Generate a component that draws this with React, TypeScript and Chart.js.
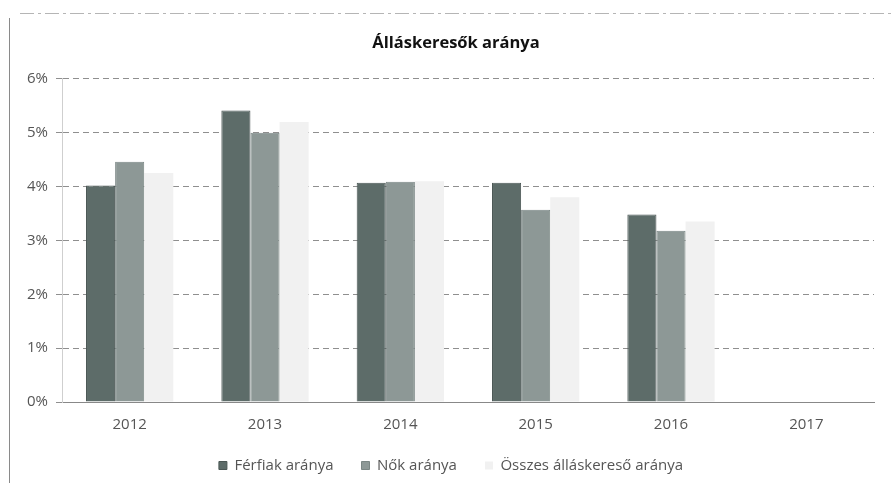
import React, { useEffect, useRef } from "react";
import { Chart, registerables } from "chart.js";

Chart.register(...registerables);

const categories = ["2012", "2013", "2014", "2015", "2016", "2017"];
const ferfiak = [4.02, 5.41, 4.07, 4.07, 3.48, null];
const nok = [4.46, 5.0, 4.09, 3.57, 3.18, null];
const osszes = [4.25, 5.2, 4.1, 3.8, 3.35, null];
const seriesNames = ["Férfiak aránya", "Nők aránya", "Összes álláskereső aránya"];
const yTicks = [0, 1, 2, 3, 4, 5, 6];

const frame = {
  id: "frame",
  afterLayout(chart: any) {
    if (chart.titleBlock) chart.titleBlock.left += 24;
    if (chart.legend) chart.legend.left += 14;
  },
  beforeDraw(chart: any) {
    const ctx = chart.ctx;
    ctx.save();
    ctx.strokeStyle = "#8a8a8a";
    ctx.lineWidth = 1;
    ctx.beginPath();
    ctx.moveTo(9.5, 18);
    ctx.lineTo(9.5, 483);
    ctx.stroke();
    ctx.strokeStyle = "#b5b5b5";
    ctx.setLineDash([14, 4, 3, 4]);
    ctx.beginPath();
    ctx.moveTo(20, 13.5);
    ctx.lineTo(891, 13.5);
    ctx.stroke();
    ctx.restore();
  },
};

export default function App() {
  const ref = useRef<HTMLCanvasElement>(null);
  useEffect(() => {
    document.body.style.margin = "0";
    const font = "'Open Sans', Lato, sans-serif";
    const chart = new Chart(ref.current!, {
      type: "bar",
      data: {
        labels: categories,
        datasets: [
          { label: seriesNames[0], data: ferfiak, backgroundColor: "#5d6c69", borderColor: "#4a5654", borderWidth: 1 },
          { label: seriesNames[1], data: nok, backgroundColor: "#8d9896", borderColor: "#7a8684", borderWidth: 1 },
          { label: seriesNames[2], data: osszes, backgroundColor: "#f1f1f1", borderColor: "#f1f1f1", borderWidth: 0 },
        ],
      },
      options: {
        animation: false,
        responsive: false,
        maintainAspectRatio: false,
        datasets: { bar: { barPercentage: 1, categoryPercentage: 0.645 } },
        layout: { padding: { left: 14, right: 17, top: 0, bottom: 0 } },
        plugins: {
          title: {
            display: true,
            text: "Álláskeresők aránya",
            color: "#111",
            font: { family: font, size: 16.5, weight: "bold" },
            padding: { top: 33, bottom: 26 },
          },
          legend: {
            position: "bottom",
            labels: {
              color: "#555",
              font: { family: font, size: 15 },
              boxWidth: 8,
              boxHeight: 8,
              padding: 28,
            },
          },
          tooltip: { enabled: false },
        },
        scales: {
          x: {
            grid: { display: false },
            border: { display: true, color: "#888" },
            afterFit: (s: any) => { s.height = 28; },
            ticks: { color: "#555", font: { family: font, size: 15 }, padding: 6 },
          },
          y: {
            min: 0,
            max: 6,
            afterBuildTicks: (s: any) => { s.ticks = yTicks.map((v) => ({ value: v })); },
            afterFit: (s: any) => { s.width = 48; },
            grid: { color: "#8f8f8f", lineWidth: 1, drawTicks: true, tickLength: 6 },
            border: { display: true, color: "#cfcfcf", dash: [6, 4] },
            ticks: {
              color: "#555",
              font: { family: font, size: 15 },
              padding: 8,
              callback: (v: any) => v + "%",
            },
          },
        },
      },
      plugins: [frame],
    });
    return () => chart.destroy();
  }, []);
  return <canvas ref={ref} width={891} height={483} style={{ display: "block" }} />;
}
